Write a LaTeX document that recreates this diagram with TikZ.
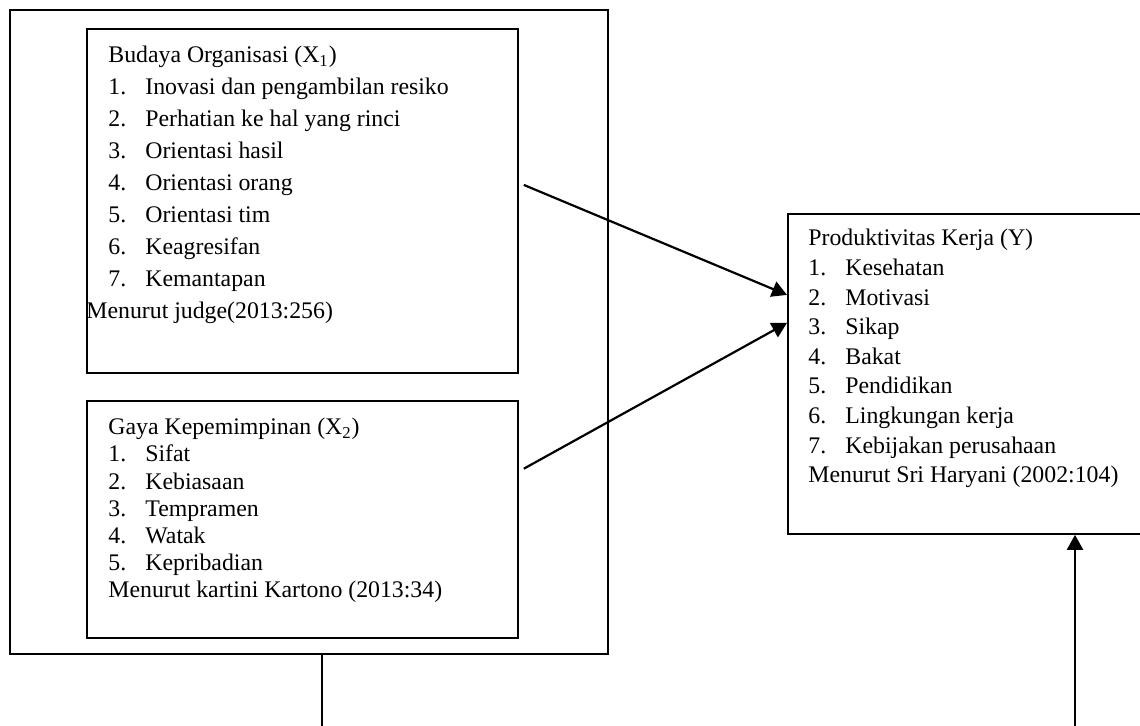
\documentclass[tikz,border=0pt]{standalone}
\usepackage{fontspec}
\setmainfont{Liberation Serif}
\usetikzlibrary{arrows.meta,positioning,calc}

\newcommand{\itm}[2]{\makebox[18.5pt][l]{#1.}#2}

\begin{document}
\begin{tikzpicture}[
    x=0.5pt, y=-0.5pt,
    box/.style={rectangle, draw, line width=0.9pt, anchor=north west, inner sep=0pt},
    list/.style={inner sep=0pt, align=left},
    arrow/.style={-{Triangle[length=7.5pt, width=8pt]}, line width=1.1pt},
    link/.style={line width=1.1pt}
]
\useasboundingbox (0,0) rectangle (1140,725);
\clip (0,0) rectangle (1140,725);

%% ── Variabel X ───────────────────────────────────────────────────
\node[box, minimum width=299pt, minimum height=322pt] (frame) at (9,9) {};
\node[box, minimum width=215.5pt, minimum height=172pt] (budaya) at (86,28) {};
\node[box, minimum width=215.5pt, minimum height=118.5pt,
      below=13pt of budaya.south west, anchor=north west] (gaya) {};

\node[list, font=\fontsize{11.9}{15.95}\selectfont,
      below right=9pt and 11pt of budaya.north west] (budayatxt)
    {Budaya Organisasi (X\textsubscript{1})\\
     \itm{1}{Inovasi dan pengambilan resiko}\\
     \itm{2}{Perhatian ke hal yang rinci}\\
     \itm{3}{Orientasi hasil}\\
     \itm{4}{Orientasi orang}\\
     \itm{5}{Orientasi tim}\\
     \itm{6}{Keagresifan}\\
     \itm{7}{Kemantapan}\\
     \hspace*{-11pt}Menurut judge(2013:256)};

\node[list, font=\fontsize{11.9}{13.6}\selectfont,
      below right=9pt and 11pt of gaya.north west] (gayatxt)
    {Gaya Kepemimpinan (X\textsubscript{2})\\
     \itm{1}{Sifat}\\
     \itm{2}{Kebiasaan}\\
     \itm{3}{Tempramen}\\
     \itm{4}{Watak}\\
     \itm{5}{Kepribadian}\\
     Menurut kartini Kartono (2013:34)};

%% ── Variabel Y ───────────────────────────────────────────────────
\node[box, minimum width=206.5pt, minimum height=160pt] (produk) at (787,213) {};
\node[list, font=\fontsize{11.9}{14.8}\selectfont,
      below right=8pt and 10.5pt of produk.north west] (produktxt)
    {Produktivitas Kerja (Y)\\
     \itm{1}{Kesehatan}\\
     \itm{2}{Motivasi}\\
     \itm{3}{Sikap}\\
     \itm{4}{Bakat}\\
     \itm{5}{Pendidikan}\\
     \itm{6}{Lingkungan kerja}\\
     \itm{7}{Kebijakan perusahaan}\\
     Menurut Sri Haryani (2002:104)};

%% ── Arrows ───────────────────────────────────────────────────────
\coordinate (drop) at (322,740);
\coordinate (rise) at (1075,740);
\draw[arrow] ($(budaya.east)+(5,-16)$) -- ($(produk.west)+(0,-79)$);
\draw[arrow] ($(gaya.east)+(5,-50.5)$) -- ($(produk.west)+(0,-51)$);
\draw[link]  (frame.south -| drop) -- (drop);
\draw[arrow] (rise) -- (rise |- produk.south);

\end{tikzpicture}
\end{document}
